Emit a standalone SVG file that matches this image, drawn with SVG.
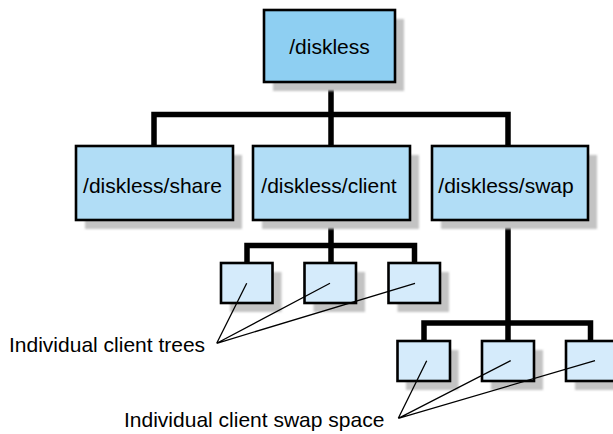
<svg xmlns="http://www.w3.org/2000/svg" width="613" height="434" viewBox="0 0 613 434">
<defs>
<filter id="blur" x="-10%" y="-10%" width="120%" height="120%"><feGaussianBlur stdDeviation="1.2"/></filter>
<style>
.sh{fill:#c3c3c3;filter:url(#blur)}
.box{stroke:#000;stroke-width:2.6}
.b1{fill:#8ecff2}
.b2{fill:#b1ddf6}
.b3{fill:#d5ebfb}
.lbl{font-family:"Liberation Sans",Arial,sans-serif;font-size:21px;fill:#000}
.mid{text-anchor:middle}
.conn{fill:none;stroke:#000;stroke-width:5.5;stroke-linejoin:miter;stroke-linecap:butt}
.lead{fill:none;stroke:#000;stroke-width:1.3}
</style>
</defs>
<rect width="613" height="434" fill="#fff"/>
<g id="connectors">
<path class="conn" d="M331,82 V146 M154,146 V114.5 H508 V146"/>
<path class="conn" d="M331,220 V263 M247,263 V245.5 H414.5 V263"/>
<path class="conn" d="M508,220 V341 M424,341 V323 H590.5 V341"/>
</g>
<g id="diskless">
<rect class="sh" x="273" y="19" width="131" height="72"/>
<rect class="box b1" x="264" y="10" width="131" height="72"/>
<text class="lbl mid" x="329.5" y="53.5">/diskless</text>
</g>
<g id="share">
<rect class="sh" x="85" y="155" width="157" height="74"/>
<rect class="box b2" x="76" y="146" width="157" height="74"/>
<text class="lbl mid" x="152.5" y="193">/diskless/share</text>
</g>
<g id="client">
<rect class="sh" x="262" y="155" width="157" height="74"/>
<rect class="box b2" x="253" y="146" width="157" height="74"/>
<text class="lbl mid" x="329" y="193">/diskless/client</text>
</g>
<g id="swap">
<rect class="sh" x="441" y="155" width="156" height="74"/>
<rect class="box b2" x="432" y="146" width="156" height="74"/>
<text class="lbl mid" x="506" y="193">/diskless/swap</text>
</g>
<g id="client-tree-1">
<rect class="sh" x="230" y="272" width="51.5" height="40"/>
<rect class="box b3" x="221" y="263" width="51.5" height="40"/>
</g>
<g id="client-tree-2">
<rect class="sh" x="313.5" y="272" width="51.5" height="40"/>
<rect class="box b3" x="304.5" y="263" width="51.5" height="40"/>
</g>
<g id="client-tree-3">
<rect class="sh" x="397.5" y="272" width="51.5" height="40"/>
<rect class="box b3" x="388.5" y="263" width="51.5" height="40"/>
</g>
<g id="swap-1">
<rect class="sh" x="406" y="350" width="52.5" height="40"/>
<rect class="box b3" x="397.5" y="341" width="52.5" height="40"/>
</g>
<g id="swap-2">
<rect class="sh" x="491" y="350" width="52" height="40"/>
<rect class="box b3" x="482" y="341" width="52" height="40"/>
</g>
<g id="swap-3">
<rect class="sh" x="575" y="350" width="52" height="40"/>
<rect class="box b3" x="566" y="341" width="52" height="40"/>
</g>
<g id="label-trees">
<text class="lbl" x="9" y="352">Individual client trees</text>
<path class="lead" d="M216.7,343.3 L246.7,283.3 M216.7,343.3 L330,283.3 M216.7,343.3 L415,283.3"/>
</g>
<g id="label-swap">
<text class="lbl" x="124" y="427">Individual client swap space</text>
<path class="lead" d="M398.3,418.3 L426.7,360.7 M398.3,418.3 L510.7,360.7 M398.3,418.3 L595,360.7"/>
</g>
</svg>
